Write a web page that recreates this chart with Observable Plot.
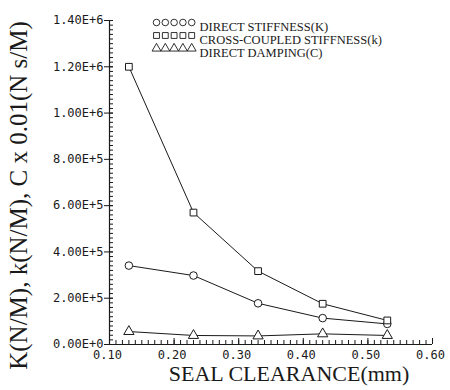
<!DOCTYPE html>
<html>
<head>
<meta charset="utf-8">
<script src="https://cdn.jsdelivr.net/npm/d3@7"></script>
<script src="https://cdn.jsdelivr.net/npm/@observablehq/plot@0.6"></script>
<style>
  html, body { margin: 0; padding: 0; background: #fff; }
  #chart svg { display: block; }
</style>
</head>
<body>
<div id="chart"></div>
<script>
// ---- data ----
const clearance = [0.13, 0.23, 0.33, 0.43, 0.53];
const directStiffness = [341000, 298000, 178000, 114000, 89000];
const crossStiffness = [1200000, 570000, 317000, 176000, 104000];
const directDamping = [56000, 39000, 37000, 46000, 39000];
const seriesNames = ["DIRECT STIFFNESS(K)", "CROSS-COUPLED STIFFNESS(k)", "DIRECT DAMPING(C)"];
const seriesSymbols = ["circle", "square", "triangle"];
const xMajor = [0.1, 0.2, 0.3, 0.4, 0.5, 0.6];
const xTickLabels = ["0.10", "0.20", "0.30", "0.40", "0.50", "0.60"];
const yMajor = [0, 200000, 400000, 600000, 800000, 1000000, 1200000, 1400000];
const yTickLabels = ["0.00E+0", "2.00E+5", "4.00E+5", "6.00E+5", "8.00E+5", "1.00E+6", "1.20E+6", "1.40E+6"];
const xMinor = d3.range(10, 61).map(v => v / 100);
const yMinor = d3.range(0, 71).map(v => v * 20000);
const yLabel = "K(N/M), k(N/M), C x 0.01(N s/M)";
const xLabel = "SEAL CLEARANCE(mm)";

// ---- layout ----
const W = 450, H = 390;
const mL = 109, mR = 18, mT = 20, mB = 46;
const fw = W - mL - mR, fh = H - mT - mB;
const ink = "#1a1a1a";

const valueSets = [directStiffness, crossStiffness, directDamping];
const rows = [];
seriesNames.forEach((s, i) => clearance.forEach((x, j) => rows.push({series: s, x, y: valueSets[i][j]})));

const legendMarks = [];
const legendRowDy = [2, 15, 28];
seriesNames.forEach((s, i) => {
  for (let k = 0; k < 5; k++) {
    legendMarks.push(Plot.dot([null], {
      frameAnchor: "top-left", dx: 47 + k * 8.8, dy: legendRowDy[i],
      symbol: seriesSymbols[i], r: 3.3, stroke: ink, strokeWidth: 0.9, fill: "none"
    }));
  }
  legendMarks.push(Plot.text([s], {
    text: d => d, frameAnchor: "top-left", dx: 90, dy: legendRowDy[i],
    textAnchor: "start", fontFamily: "Liberation Serif", fontSize: 12.5, fill: ink
  }));
});

const chart = Plot.plot({
  width: W, height: H,
  marginLeft: mL, marginRight: mR, marginTop: mT, marginBottom: mB,
  style: {fontFamily: "DejaVu Sans Mono", fontSize: "12px", color: ink, background: "#fff"},
  x: {domain: [0.1, 0.6]},
  y: {domain: [0, 1400000]},
  symbol: {domain: seriesNames, range: seriesSymbols},
  marks: [
    Plot.axisX({ticks: xMajor, tickSize: 0, tickPadding: 6, dx: -2,
      tickFormat: d => xTickLabels[xMajor.findIndex(v => Math.abs(v - d) < 1e-9)], label: null}),
    Plot.axisY({ticks: yMajor, tickSize: 0, tickPadding: 6,
      tickFormat: d => yTickLabels[yMajor.indexOf(d)], label: null}),
    Plot.tickY(yMinor, {y: d => d, insetRight: fw - 4, stroke: ink, strokeWidth: 1}),
    Plot.tickY(yMajor, {y: d => d, insetLeft: -5, insetRight: fw - 4, stroke: ink, strokeWidth: 1}),
    Plot.tickX(xMinor, {x: d => d, insetTop: fh - 4, stroke: ink, strokeWidth: 1}),
    Plot.tickX(xMajor, {x: d => d, insetTop: fh - 6, stroke: ink, strokeWidth: 1}),
    Plot.ruleX([0.1], {stroke: ink, strokeWidth: 1.2}),
    Plot.ruleY([0], {stroke: ink, strokeWidth: 1.2}),
    Plot.line(rows, {x: "x", y: "y", z: "series", stroke: ink, strokeWidth: 1}),
    Plot.dot(rows, {x: "x", y: "y", symbol: "series", r: 3.8, stroke: ink, strokeWidth: 1, fill: "white"}),
    ...legendMarks,
    Plot.text([yLabel], {text: d => d, frameAnchor: "left", textAnchor: "middle", rotate: -90, dx: -91, dy: 13,
      fontFamily: "Liberation Serif", fontSize: 25, fill: ink}),
    Plot.text([xLabel], {text: d => d, frameAnchor: "bottom", textAnchor: "middle", dx: 18, dy: 36,
      fontFamily: "Liberation Serif", fontSize: 22, fill: ink})
  ]
});
document.getElementById("chart").appendChild(chart);
</script>
</body>
</html>
